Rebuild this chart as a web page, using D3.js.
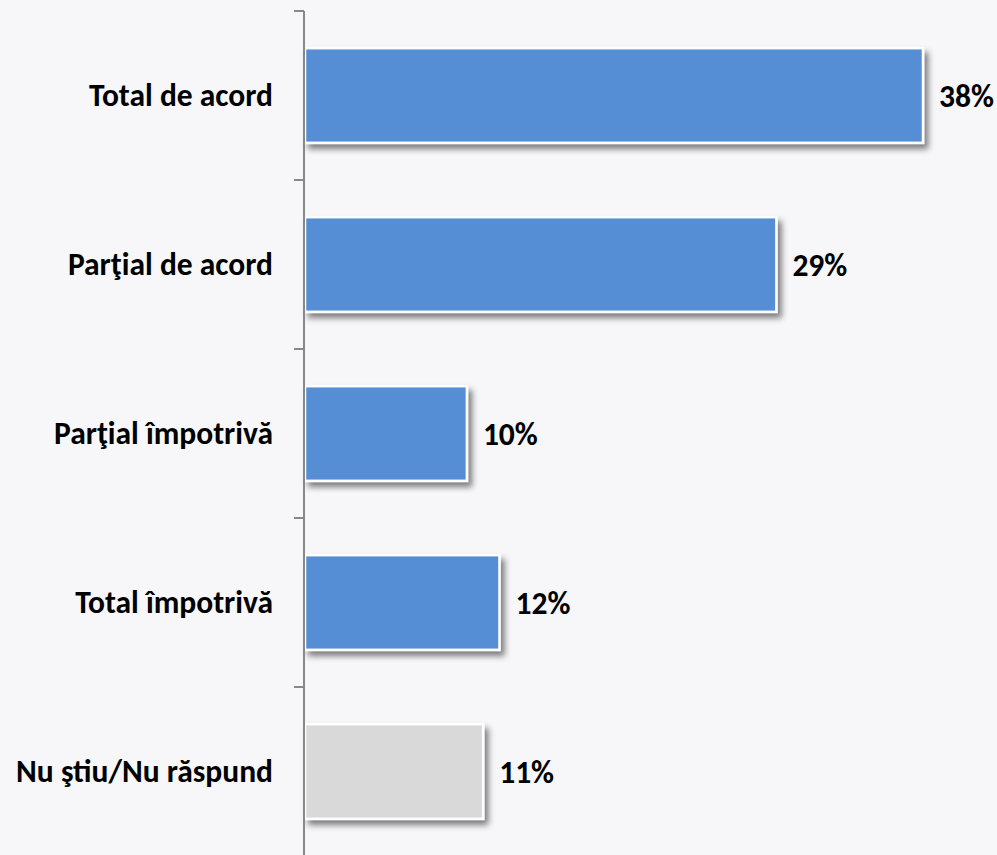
<!DOCTYPE html>
<html>
<head>
<meta charset="utf-8">
<script src="https://cdn.jsdelivr.net/npm/d3@7"></script>
<style>
  html, body { margin: 0; padding: 0; background: #f7f7f9; }
  svg { display: block; }
  text { font-family: Carlito, Lato, "Open Sans", sans-serif; font-weight: bold; fill: #000; }
</style>
</head>
<body>
<svg id="chart" width="997" height="855"></svg>
<script>
// Survey answers and their shares (%)
const categories = ["Total de acord", "Parţial de acord", "Parţial împotrivă", "Total împotrivă", "Nu ştiu/Nu răspund"];
const values = [38, 29, 10, 12, 11];
const valueLabels = ["38%", "29%", "10%", "12%", "11%"];
const barColors = ["#558ed5", "#558ed5", "#558ed5", "#558ed5", "#d9d9d9"];

const svg = d3.select("#chart");
const x0 = 304;

const x = d3.scaleLinear().domain([0, 38]).range([x0, x0 + 619]);
const y = d3.scaleBand().domain(categories).range([11, 856]).paddingInner(0.44).paddingOuter(0.22);

// soft drop shadow under each bar
const defs = svg.append("defs");
const f = defs.append("filter").attr("id", "shadow").attr("x", "-10%").attr("y", "-20%").attr("width", "130%").attr("height", "150%");
f.append("feGaussianBlur").attr("in", "SourceAlpha").attr("stdDeviation", 3);
f.append("feOffset").attr("dx", 4).attr("dy", 5).attr("result", "off");
f.append("feComponentTransfer").append("feFuncA").attr("type", "linear").attr("slope", 0.5);
const m = f.append("feMerge");
m.append("feMergeNode");
m.append("feMergeNode").attr("in", "SourceGraphic");

// bars
svg.append("g").selectAll("rect").data(categories).join("rect")
  .attr("x", x(0) + 1)
  .attr("y", d => y(d))
  .attr("width", (d, i) => x(values[i]) - x(0) - 1)
  .attr("height", y.bandwidth())
  .attr("fill", (d, i) => barColors[i])
  .attr("stroke", "#ffffff")
  .attr("stroke-width", 2.5)
  .attr("filter", "url(#shadow)");

// category axis on the left
const ax = svg.append("g").attr("transform", `translate(${x0},0)`);
ax.append("line").attr("x1", 0).attr("x2", 0).attr("y1", 11).attr("y2", 856)
  .attr("stroke", "#888").attr("stroke-width", 2);
const step = y.step();
const tickYs = d3.range(categories.length + 1).map(i => 11 + i * step);
ax.selectAll("line.tick").data(tickYs).join("line").attr("class", "tick")
  .attr("x1", -10).attr("x2", 0).attr("y1", d => d).attr("y2", d => d)
  .attr("stroke", "#888").attr("stroke-width", 2);

// category labels
svg.append("g").selectAll("text").data(categories).join("text")
  .attr("x", 273)
  .attr("y", d => y(d) + y.bandwidth() / 2)
  .attr("dy", "0.34em")
  .attr("text-anchor", "end")
  .attr("font-size", 31.5)
  .text(d => d);

// value labels
svg.append("g").selectAll("text").data(categories).join("text")
  .attr("x", (d, i) => x(values[i]) + 16)
  .attr("y", d => y(d) + y.bandwidth() / 2 + 1)
  .attr("dy", "0.34em")
  .attr("font-size", 31.5)
  .text((d, i) => valueLabels[i]);
</script>
</body>
</html>
